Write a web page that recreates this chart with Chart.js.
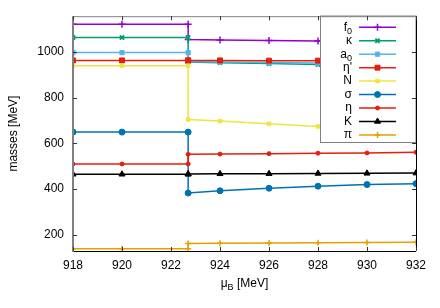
<!DOCTYPE html>
<html>
<head>
<meta charset="utf-8">
<title>masses vs muB</title>
<script src="https://cdn.jsdelivr.net/npm/chart.js@4/dist/chart.umd.min.js"></script>
<style>
	html, body { margin: 0; padding: 0; background: #fff; }
	#wrap { width: 440px; height: 308px; }
</style>
</head>
<body>
<div id="wrap"><canvas id="chart" width="440" height="308"></canvas></div>
<script>
// mu_B values, 922.7 appears twice (before and after the jump)
var muB = [918, 920, 922.7, 922.7, 924, 926, 928, 930, 932];

// masses in MeV, one array per meson / baryon
var f0    = [1120, 1120, 1120, 1053, 1051, 1049, 1047, 1045, 1043];
var kappa = [1062, 1062, 1062, 955, 952, 948, 944, 940, 936];
var a0    = [996, 996, 996, 957, 955, 953, 951, 949, 947];
var etaP  = [962, 962, 962, 962, 962, 961, 961, 960, 960];
var nuc   = [939, 939, 939, 704, 697, 685, 674, 664, 655];
var sigma = [649, 649, 649, 383, 393, 404, 413, 420, 424];
var eta   = [510, 510, 510, 552, 553, 555, 557, 558, 561];
var kaon  = [465, 465, 465, 466, 467, 467.5, 468.5, 469, 470];
var pion  = [140, 140, 140, 163, 164, 165, 166, 167, 168];

var xTicks = [918, 920, 922, 924, 926, 928, 930, 932];
var yTicks = [200, 400, 600, 800, 1000];

// legend names, with subscript parts
var names = ["f", "κ", "a", "η'", "N", "σ", "η", "K", "π"];
var subs  = ["0", "", "0", "", "", "", "", "", ""];

var FONT = "'Liberation Sans', Arial, sans-serif";

function pts(arr) {
	return arr.map(function (v, i) { return { x: muB[i], y: v }; });
}

var series = [
	{ d: f0,    c: "#9400d3", s: "cross",    r: 3.5, bw: 1.5 },
	{ d: kappa, c: "#009e73", s: "crossRot", r: 3,   bw: 2 },
	{ d: a0,    c: "#56b4e9", s: "rect",     r: 3,   bw: 1 },
	{ d: etaP,  c: "#e51e10", s: "rect",     r: 3.5, bw: 1 },
	{ d: nuc,   c: "#f0e442", s: "rect",     r: 2.5, bw: 1 },
	{ d: sigma, c: "#0072b2", s: "circle",   r: 3,   bw: 1 },
	{ d: eta,   c: "#e51e10", s: "circle",   r: 2,   bw: 1 },
	{ d: kaon,  c: "#000000", s: "triangle", r: 3.5, bw: 1 },
	{ d: pion,  c: "#e69f00", s: "cross",    r: 3,   bw: 1.5 }
];

var datasets = series.map(function (s, i) {
	return {
		label: names[i] + subs[i],
		data: pts(s.d),
		borderColor: s.c,
		backgroundColor: s.c,
		borderWidth: 1.5,
		pointStyle: s.s,
		pointRadius: s.r,
		pointBorderWidth: s.bw,
		pointBorderColor: s.c,
		pointBackgroundColor: s.c,
		tension: 0,
		order: 20 - i
	};
});

// draws text with optional subscript, right aligned at x
function subText(ctx, main, sub, x, y, align) {
	ctx.font = "12px " + FONT;
	var w1 = ctx.measureText(main).width;
	ctx.font = "9px " + FONT;
	var w2 = sub ? ctx.measureText(sub).width : 0;
	var start = align === "right" ? x - w1 - w2 : x;
	ctx.textAlign = "left";
	ctx.textBaseline = "middle";
	ctx.font = "12px " + FONT;
	ctx.fillText(main, start, y);
	if (sub) {
		ctx.font = "9px " + FONT;
		ctx.fillText(sub, start + w1, y + 4);
	}
	return w1 + w2;
}

var decor = {
	id: "decor",
	afterDatasetsDraw: function (chart) {
		var ctx = chart.ctx;
		var a = chart.chartArea;
		var xs = chart.scales.x, ys = chart.scales.y;
		ctx.save();

		// key box
		var bx = 320.5, by = 16, bw = a.right - bx, bh = 126.5;
		ctx.fillStyle = "#fff";
		ctx.fillRect(bx, by, bw, bh);
		ctx.strokeStyle = "#808080";
		ctx.lineWidth = 1;
		ctx.strokeRect(bx, by, bw, bh);
		for (var i = 0; i < series.length; i++) {
			var yy = 27.3 + i * 13.45;
			ctx.fillStyle = "#000";
			subText(ctx, names[i], subs[i], 352, yy, "right");
			ctx.strokeStyle = series[i].c;
			ctx.lineWidth = 1.5;
			ctx.beginPath();
			ctx.moveTo(359, yy);
			ctx.lineTo(396, yy);
			ctx.stroke();
			ctx.fillStyle = series[i].c;
			ctx.lineWidth = series[i].bw;
			Chart.helpers.drawPoint(ctx, {
				pointStyle: series[i].s, radius: series[i].r, rotation: 0, borderWidth: series[i].bw
			}, 377.5, yy);
		}

		// frame
		ctx.lineWidth = 1;
		ctx.strokeStyle = "#000";
		ctx.beginPath();
		ctx.moveTo(a.left, a.bottom + 0.5); ctx.lineTo(a.right, a.bottom + 0.5);
		ctx.moveTo(a.right + 0.5, a.top); ctx.lineTo(a.right + 0.5, a.bottom);
		ctx.stroke();
		ctx.strokeStyle = "#808080";
		ctx.beginPath();
		ctx.moveTo(a.left, a.top + 0.5); ctx.lineTo(a.right, a.top + 0.5);
		ctx.stroke();
		ctx.lineWidth = 2;
		ctx.beginPath();
		ctx.moveTo(a.left, a.top); ctx.lineTo(a.left, a.bottom + 1);
		ctx.stroke();

		// inward ticks, mirrored
		ctx.lineWidth = 1;
		ctx.strokeStyle = "#333";
		ctx.beginPath();
		xTicks.forEach(function (t) {
			var px = Math.round(xs.getPixelForValue(t)) + 0.5;
			ctx.moveTo(px, a.bottom); ctx.lineTo(px, a.bottom - 4);
			ctx.moveTo(px, a.top); ctx.lineTo(px, a.top + 4);
		});
		yTicks.forEach(function (t) {
			var py = Math.round(ys.getPixelForValue(t)) + 0.5;
			ctx.moveTo(a.left, py); ctx.lineTo(a.left + 4, py);
			ctx.moveTo(a.right, py); ctx.lineTo(a.right - 4, py);
		});
		ctx.stroke();

		// axis titles
		ctx.fillStyle = "#000";
		ctx.font = "12px " + FONT;
		var t1 = "μ", t2 = "B", t3 = " [MeV]";
		var w1 = ctx.measureText(t1).width;
		var w3 = ctx.measureText(t3).width;
		ctx.font = "9px " + FONT;
		var w2 = ctx.measureText(t2).width;
		var x0 = (a.left + a.right) / 2 - (w1 + w2 + w3) / 2;
		ctx.textBaseline = "middle";
		ctx.textAlign = "left";
		ctx.font = "12px " + FONT;
		ctx.fillText(t1, x0, 284);
		ctx.font = "9px " + FONT;
		ctx.fillText(t2, x0 + w1, 288);
		ctx.font = "12px " + FONT;
		ctx.fillText(t3, x0 + w1 + w2, 284);

		ctx.translate(14, (a.top + a.bottom) / 2);
		ctx.rotate(-Math.PI / 2);
		ctx.textAlign = "center";
		ctx.fillText("masses [MeV]", 0, 0);
		ctx.restore();
	}
};

var canvas = document.getElementById("chart").getContext("2d");
window.massChart = new Chart(canvas, {
	type: "line",
	data: { datasets: datasets },
	plugins: [decor],
	options: {
		responsive: false,
		animation: false,
		devicePixelRatio: 1,
		layout: { padding: { top: 16, right: 24, left: 0, bottom: 0 } },
		plugins: { legend: { display: false }, tooltip: { enabled: false } },
		scales: {
			x: {
				type: "linear",
				min: 918,
				max: 932,
				afterBuildTicks: function (s) { s.ticks = xTicks.map(function (v) { return { value: v }; }); },
				afterFit: function (s) { s.height = 57; },
				grid: { display: false, drawTicks: false },
				border: { display: false },
				ticks: { color: "#000", padding: 7, maxRotation: 0, font: { family: FONT, size: 12 },
					callback: function (v) { return String(v); } }
			},
			y: {
				min: 130,
				max: 1155,
				afterBuildTicks: function (s) { s.ticks = yTicks.map(function (v) { return { value: v }; }); },
				afterFit: function (s) { s.width = 73; },
				grid: { display: false, drawTicks: false },
				border: { display: false },
				ticks: { color: "#000", padding: 9, font: { family: FONT, size: 12 },
					callback: function (v) { return String(v); } }
			}
		}
	}
});
</script>
</body>
</html>
